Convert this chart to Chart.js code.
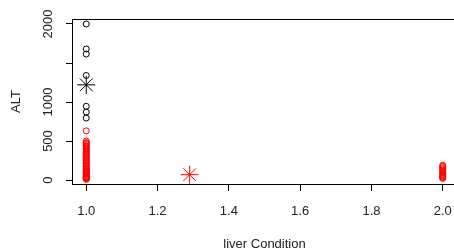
<!DOCTYPE html>
<html>
<head>
<meta charset="utf-8">
<script src="https://cdn.jsdelivr.net/npm/chart.js@4"></script>
<style>
  html, body { margin: 0; padding: 0; overflow: hidden; background: #fff; }
</style>
</head>
<body>
<canvas id="chart" width="470" height="250"></canvas>
<script>
// ===== Data =====
// ALT values at liver condition 1 (black, higher values)
const blackALT = [2000, 1680, 1615, 1340, 945, 870, 795];
// ALT values at liver condition 1 (red)
const redALT1 = [630, 500, 480, 470, 455, 440, 425, 410, 400, 385, 370, 355, 340, 330, 315,
  300, 290, 275, 260, 250, 235, 220, 210, 195, 180, 170, 155, 140, 130, 120, 110, 100,
  90, 80, 70, 60, 50, 45, 40, 35, 30, 25, 20, 15, 10];
// ALT values at liver condition 2 (red)
const redALT2 = [190, 175, 160, 145, 130, 115, 100, 85, 70, 60, 50, 40, 30, 20];
// group means (stars)
const blackMean = { x: 1.0, y: 1220 };
const redMean = { x: 1.29, y: 68 };

const xTicks = [1.0, 1.2, 1.4, 1.6, 1.8, 2.0];
const xTickLabels = ["1.0", "1.2", "1.4", "1.6", "1.8", "2.0"];
const yTicks = [0, 500, 1000, 1500, 2000];
const yTickLabels = ["0", "500", "1000", "", "2000"];

const axisFont = { family: "'Liberation Sans', Arial, sans-serif", size: 13 };
const textColor = "#222";

// ===== Box around plot area =====
const boxPlugin = {
  id: "box",
  afterDraw(chart) {
    const { ctx, chartArea: a } = chart;
    ctx.save();
    ctx.strokeStyle = "#000";
    ctx.lineWidth = 1;
    ctx.strokeRect(a.left + 0.5, a.top + 0.5, a.right - a.left, a.bottom - a.top);
    ctx.restore();
  }
};

const circle = (color) => ({
  pointStyle: "circle",
  pointRadius: 3,
  pointBorderWidth: 1,
  borderColor: color,
  backgroundColor: "transparent"
});

const star = (color) => ({
  pointStyle: "star",
  pointRadius: 9,
  pointBorderWidth: 1,
  borderColor: color,
  backgroundColor: "transparent"
});

new Chart(document.getElementById("chart"), {
  type: "scatter",
  data: {
    datasets: [
      { data: redALT1.map(v => ({ x: 1, y: v })), ...circle("#ff0000") },
      { data: redALT2.map(v => ({ x: 2, y: v })), ...circle("#ff0000") },
      { data: blackALT.map(v => ({ x: 1, y: v })), ...circle("#000000") },
      { data: [blackMean], ...star("#000000") },
      { data: [redMean], ...star("#ff0000") }
    ]
  },
  options: {
    responsive: false,
    animation: false,
    layout: { padding: { top: 19, right: 13, left: 0, bottom: 0 } },
    plugins: { legend: { display: false }, tooltip: { enabled: false } },
    scales: {
      x: {
        type: "linear",
        min: 0.96,
        max: 2.04,
        afterBuildTicks: s => { s.ticks = xTicks.map(v => ({ value: v })); },
        afterFit: s => { s.height = 66; },
        ticks: {
          callback: (v, i) => xTickLabels[i],
          font: axisFont,
          color: textColor,
          padding: 13,
          maxRotation: 0
        },
        grid: { drawOnChartArea: false, drawTicks: true, tickLength: 7, color: "#000" },
        border: { color: "#000" },
        title: {
          display: true,
          text: "liver Condition",
          font: axisFont,
          color: textColor,
          padding: { top: 0, bottom: -2 }
        }
      },
      y: {
        min: -51,
        max: 2064,
        afterBuildTicks: s => { s.ticks = yTicks.map(v => ({ value: v })); },
        afterFit: s => { s.width = 72; },
        ticks: {
          callback: (v, i) => yTickLabels[i],
          font: axisFont,
          color: textColor,
          minRotation: 90,
          maxRotation: 90,
          crossAlign: "center",
          autoSkip: false,
          padding: 3
        },
        grid: { drawOnChartArea: false, drawTicks: true, tickLength: 6, color: "#000" },
        border: { color: "#000" },
        title: {
          display: true,
          text: "ALT",
          font: axisFont,
          color: textColor,
          padding: { top: 9, bottom: 0 }
        }
      }
    }
  },
  plugins: [boxPlugin]
});
</script>
</body>
</html>
